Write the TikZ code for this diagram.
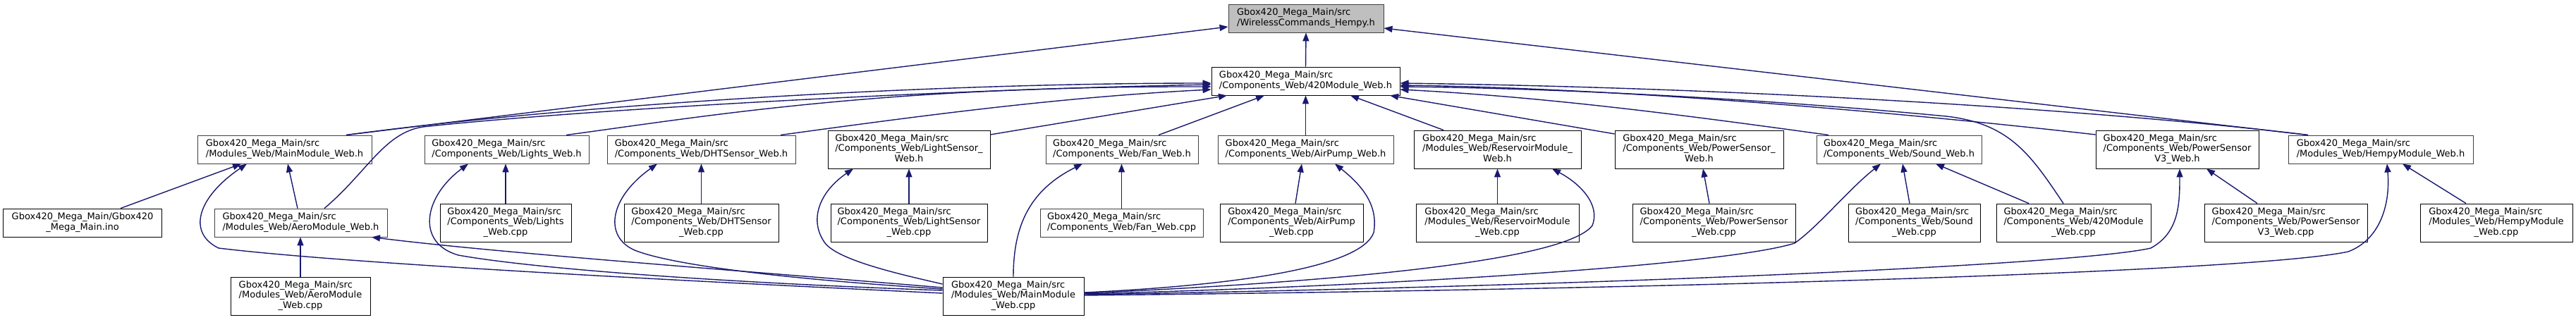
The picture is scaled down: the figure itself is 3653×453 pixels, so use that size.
\documentclass[tikz,border=0pt]{standalone}
\usepackage{fontspec}
\setmainfont{DejaVu Sans}
\usetikzlibrary{arrows.meta}
\definecolor{edgecol}{HTML}{191970}
\definecolor{grayborder}{HTML}{404040}
\definecolor{hilite}{HTML}{BFBFBF}
\newcommand{\G}{Gbox420\_Mega\_Main/src}
\newcommand{\twoline}[2]{\begin{tabular}{@{}l@{}}#1\\\multicolumn{1}{@{}c@{}}{#2}\end{tabular}}
\newcommand{\threeline}[3]{\begin{tabular}{@{}l@{}}#1\\#2\\\multicolumn{1}{@{}c@{}}{#3}\end{tabular}}
\begin{document}
\begin{tikzpicture}[x=1pt,y=-1pt,
  fbox/.style={draw=black, line width=0.9pt, fill=white, inner sep=0pt, minimum height=40pt, font=\fontsize{13}{14.5}\selectfont},
  gbox/.style={fbox, draw=grayborder},
  tall/.style={minimum height=54pt},
  dep/.style={draw=edgecol, line width=1.4pt, -{Triangle[length=12pt,width=9pt]}}]
\fill[white] (0,0) rectangle (3653,453);
\useasboundingbox (0,0) rectangle (3653,453);
% row 1-2
\node[gbox, fill=hilite, minimum width=220pt] (WC) at (1852,26) {\twoline{\G}{/WirelessCommands\_Hempy.h}};
\node[fbox, minimum width=267pt] (H420) at (1851.5,115) {\twoline{\G}{/Components\_Web/420Module\_Web.h}};
% row 3
\node[gbox, minimum width=247pt] (MainH) at (403.5,212) {\twoline{\G}{/Modules\_Web/MainModule\_Web.h}};
\node[gbox, minimum width=233pt] (LightsH) at (718.5,212) {\twoline{\G}{/Components\_Web/Lights\_Web.h}};
\node[gbox, minimum width=267pt] (DHTH) at (994.5,212) {\twoline{\G}{/Components\_Web/DHTSensor\_Web.h}};
\node[fbox, tall, minimum width=230pt] (LSH) at (1289,212) {\threeline{\G}{/Components\_Web/LightSensor\_}{Web.h}};
\node[gbox, minimum width=216pt] (FanH) at (1591,212) {\twoline{\G}{/Components\_Web/Fan\_Web.h}};
\node[gbox, minimum width=249pt] (APH) at (1851.5,212) {\twoline{\G}{/Components\_Web/AirPump\_Web.h}};
\node[fbox, tall, minimum width=237pt] (ResH) at (2123.5,212) {\threeline{\G}{/Modules\_Web/ReservoirModule\_}{Web.h}};
\node[fbox, tall, minimum width=239pt] (PSH) at (2409.5,212) {\threeline{\G}{/Components\_Web/PowerSensor\_}{Web.h}};
\node[gbox, minimum width=234pt] (SoundH) at (2693,212) {\twoline{\G}{/Components\_Web/Sound\_Web.h}};
\node[fbox, tall, minimum width=231pt] (PSV3H) at (3087.5,212) {\threeline{\G}{/Components\_Web/PowerSensor}{V3\_Web.h}};
\node[gbox, minimum width=262pt] (HempyH) at (3376,212) {\twoline{\G}{/Modules\_Web/HempyModule\_Web.h}};
% row 4
\node[fbox, minimum width=225pt] (Ino) at (117,316) {\twoline{Gbox420\_Mega\_Main/Gbox420}{\_Mega\_Main.ino}};
\node[gbox, minimum width=245pt] (AeroH) at (426.5,316) {\twoline{\G}{/Modules\_Web/AeroModule\_Web.h}};
\node[fbox, tall, minimum width=186pt] (LightsC) at (717,316) {\threeline{\G}{/Components\_Web/Lights}{\_Web.cpp}};
\node[fbox, tall, minimum width=219pt] (DHTC) at (994.5,316) {\threeline{\G}{/Components\_Web/DHTSensor}{\_Web.cpp}};
\node[fbox, tall, minimum width=222pt] (LSC) at (1289,316) {\threeline{\G}{/Components\_Web/LightSensor}{\_Web.cpp}};
\node[gbox, minimum width=231pt] (FanC) at (1590.5,316) {\twoline{\G}{/Components\_Web/Fan\_Web.cpp}};
\node[fbox, tall, minimum width=203pt] (APC) at (1831.5,316) {\threeline{\G}{/Components\_Web/AirPump}{\_Web.cpp}};
\node[fbox, tall, minimum width=231pt] (ResC) at (2123.5,316) {\threeline{\G}{/Modules\_Web/ReservoirModule}{\_Web.cpp}};
\node[fbox, tall, minimum width=231pt] (PSC) at (2430.5,316) {\threeline{\G}{/Components\_Web/PowerSensor}{\_Web.cpp}};
\node[fbox, tall, minimum width=187pt] (SoundC) at (2714.5,316) {\threeline{\G}{/Components\_Web/Sound}{\_Web.cpp}};
\node[fbox, tall, minimum width=219pt] (C420) at (2940.5,316) {\threeline{\G}{/Components\_Web/420Module}{\_Web.cpp}};
\node[fbox, tall, minimum width=231pt] (PSV3C) at (3241.5,316) {\threeline{\G}{/Components\_Web/PowerSensor}{V3\_Web.cpp}};
\node[fbox, tall, minimum width=216pt] (HempyC) at (3540,316) {\threeline{\G}{/Modules\_Web/HempyModule}{\_Web.cpp}};
% row 5
\node[fbox, tall, minimum width=198pt] (AeroC) at (426,420) {\threeline{\G}{/Modules\_Web/AeroModule}{\_Web.cpp}};
\node[fbox, tall, minimum width=200pt] (MainC) at (1437,420) {\threeline{\G}{/Modules\_Web/MainModule}{\_Web.cpp}};

% edges to WirelessCommands
\draw[dep] (H420.north) -- (WC.south);
\draw[dep] (MainH.north -| 491,0) -- (WC.west |- 0,38);
\draw[dep] (HempyH.north -| 3273,0) -- (WC.east |- 0,40);
% edges to 420Module_Web.h (left side)
\draw[dep] (MainH.north -| 491,0) .. controls (800,150) and (1300,118) .. (H420.west |- 0,118);
\draw[dep] (AeroH.north -| 460,0) .. controls (520,245) and (545,188) .. (600,180) .. controls (800,158) and (1300,128) .. (H420.west |- 0,120);
\draw[dep] (LightsH.north -| 803,0) .. controls (1000,165) and (1250,122) .. (H420.west |- 0,123);
\draw[dep] (DHTH.north -| 1107,0) .. controls (1300,165) and (1500,138) .. (H420.west |- 0,127);
\draw[dep] (LSH.east |- 0,191) -- (H420.south -| 1740,0);
\draw[dep] (FanH.north -| 1643,0) -- (H420.south -| 1793,0);
\draw[dep] (APH.north) -- (H420.south);
\draw[dep] (ResH.north -| 2047,0) -- (H420.south -| 1915,0);
\draw[dep] (PSH.west |- 0,190) -- (H420.south -| 1971,0);
% edges to 420Module_Web.h (right side)
\draw[dep] (SoundH.north -| 2593,0) .. controls (2400,165) and (2200,138) .. (H420.east |- 0,127);
\draw[dep] (C420.north -| 2926,0) .. controls (2880,220) and (2850,175) .. (2760,165) .. controls (2500,140) and (2200,125) .. (H420.east |- 0,123);
\draw[dep] (PSV3H.west |- 0,191) .. controls (2700,160) and (2300,125) .. (H420.east |- 0,121);
\draw[dep] (HempyH.north -| 3273,0) .. controls (3000,158) and (2500,125) .. (H420.east |- 0,118);
% MainModule_Web.h
\draw[dep] (Ino.north -| 171,0) -- (MainH.south -| 342,0);
\draw[dep] (AeroH.north -| 422,0) -- (MainH.south -| 408,0);
\draw[dep] (MainC.west |- 0,416) .. controls (1000,400) and (500,375) .. (310,352) .. controls (265,330) and (280,280) .. (MainH.south -| 350,0);
% AeroModule_Web.h
\draw[dep] (AeroC.north) -- (AeroH.south -| AeroC.north);
\draw[dep] (MainC.west |- 0,408) .. controls (1000,380) and (700,358) .. (AeroH.south -| 527,0);
% Lights
\draw[dep] (LightsC.north) -- (LightsH.south -| LightsC.north);
\draw[dep] (MainC.west |- 0,412) .. controls (1000,400) and (750,380) .. (650,362) .. controls (590,345) and (600,280) .. (LightsH.south -| 664,0);
% DHT
\draw[dep] (DHTC.north) -- (DHTH.south -| DHTC.north);
\draw[dep] (MainC.west |- 0,410) .. controls (1100,395) and (950,375) .. (900,355) .. controls (855,335) and (865,280) .. (DHTH.south -| 932,0);
% LightSensor
\draw[dep] (LSC.north) -- (LSH.south -| LSC.north);
\draw[dep] (MainC.west |- 0,403) .. controls (1280,390) and (1190,370) .. (1170,345) .. controls (1145,310) and (1165,270) .. (LSH.south -| 1210,0);
% Fan
\draw[dep] (FanC.north) -- (FanH.south -| FanC.north);
\draw[dep] (MainC.north -| 1437,0) .. controls (1437,320) and (1460,270) .. (FanH.south -| 1535,0);
% AirPump
\draw[dep] (APC.north -| 1837,0) -- (APH.south -| 1846,0);
\draw[dep] (MainC.east |- 0,415) .. controls (1750,405) and (1930,380) .. (1948,330) .. controls (1955,290) and (1930,262) .. (APH.south -| 1893,0);
% Reservoir
\draw[dep] (ResC.north) -- (ResH.south -| ResC.north);
\draw[dep] (MainC.east |- 0,416) .. controls (1900,400) and (2220,370) .. (2258,320) .. controls (2270,290) and (2240,260) .. (ResH.south -| 2201,0);
% PowerSensor
\draw[dep] (PSC.north -| 2424,0) -- (PSH.south -| 2415,0);
% Sound
\draw[dep] (SoundC.north -| 2708,0) -- (SoundH.south -| 2698,0);
\draw[dep] (C420.north -| 2877,0) -- (SoundH.south -| 2745,0);
\draw[dep] (MainC.east |- 0,417) .. controls (2000,405) and (2450,375) .. (2545,345) .. controls (2580,320) and (2620,270) .. (SoundH.south -| 2667,0);
% PowerSensorV3
\draw[dep] (PSV3C.north -| 3201,0) -- (PSV3H.south -| 3129,0);
\draw[dep] (MainC.east |- 0,418) .. controls (2300,405) and (2950,375) .. (3050,352) .. controls (3090,330) and (3091,290) .. (PSV3H.south -| 3091,0);
% Hempy
\draw[dep] (HempyC.north -| 3497,0) -- (HempyH.south -| 3407,0);
\draw[dep] (MainC.east |- 0,419) .. controls (2400,410) and (3200,385) .. (3330,357) .. controls (3375,340) and (3390,290) .. (HempyH.south -| 3385,0);
\end{tikzpicture}
\end{document}
